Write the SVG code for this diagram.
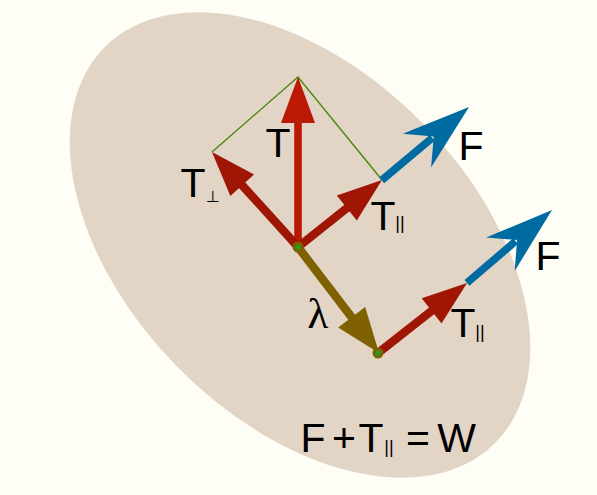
<svg xmlns="http://www.w3.org/2000/svg" width="597" height="495" viewBox="0 0 597 495">
  <style>
    .lbl { font-family: "Liberation Sans", Arial, sans-serif; font-size: 41px; fill: #000; }
    .sub { font-family: "Liberation Sans", Arial, sans-serif; font-size: 18px; fill: #000; }
    .perp { font-family: "DejaVu Sans", sans-serif; font-size: 16px; fill: #000; }
    .lam { font-family: "Liberation Serif", "Times New Roman", serif; font-size: 43px; fill: #000; }
    .red1 { fill: #ba1a03; }
    .red2 { fill: #9f1605; }
    .blue { fill: #006ba1; }
    .olive { fill: #7f6102; }
    .guide { fill: none; stroke: #4d8a12; stroke-width: 1.5; }
  </style>
  <rect x="0" y="0" width="597" height="495" fill="#fefef6"/>
  <ellipse id="body" cx="300" cy="245" rx="278" ry="173" transform="rotate(45.7 300 245)" fill="#e3d5c6"/>

  <g id="connectors">
    <path class="guide" d="M212,152 L298,77 L382,180"/>
    <g id="F1" class="blue" transform="translate(469,107) rotate(-40)">
      <rect x="-114" y="-3.8" width="66" height="7.6"/>
      <path d="M0,0 L-68,-22 L-46,0 L-68,22 Z"/>
    </g>
    <g id="F2" class="blue" transform="translate(552,210) rotate(-40.6)">
      <rect x="-112" y="-3.8" width="64" height="7.6"/>
      <path d="M0,0 L-68,-22 L-46,0 L-68,22 Z"/>
    </g>
    <g id="T" class="red1" transform="translate(298,77) rotate(-90)">
      <rect x="-170" y="-3.8" width="126" height="7.6"/>
      <path d="M0,0 L-46,-17 L-46,17 Z"/>
    </g>
    <g id="Tperp" class="red2" transform="translate(212,152) rotate(-132.2)">
      <rect x="-128" y="-4.2" width="86" height="8.4"/>
      <path d="M0,0 L-45,-16 L-45,16 Z"/>
    </g>
    <g id="Tpar1" class="red2" transform="translate(382,180) rotate(-38.6)">
      <rect x="-107" y="-4.2" width="65" height="8.4"/>
      <path d="M0,0 L-45,-16 L-45,16 Z"/>
    </g>
    <g id="lambda" class="olive" transform="translate(379,353) rotate(52.6)">
      <rect x="-133" y="-4.2" width="91" height="8.4"/>
      <path d="M0,0 L-45,-17 L-45,17 Z"/>
    </g>
    <g id="Tpar2" class="red2" transform="translate(467,283) rotate(-38.2)">
      <rect x="-113" y="-4.2" width="71" height="8.4"/>
      <path d="M0,0 L-45,-16 L-45,16 Z"/>
    </g>
  </g>

  <g id="node1">
    <circle cx="298" cy="247" r="5.5" fill="#7f6102"/>
    <circle cx="298" cy="247" r="2.6" fill="#1f9e1f"/>
  </g>
  <g id="node2">
    <circle cx="378" cy="353" r="5.5" fill="#7f6102"/>
    <circle cx="378" cy="353" r="2.6" fill="#1f9e1f"/>
  </g>

  <g id="labels">
    <text class="lbl" x="278" y="157" text-anchor="middle">T</text>
    <text class="lbl" x="193" y="197" text-anchor="middle">T</text>
    <text class="perp" x="213" y="202" text-anchor="middle">⊥</text>
    <text class="lbl" x="383" y="230" text-anchor="middle">T</text>
    <text class="sub" x="400" y="229" text-anchor="middle">||</text>
    <text class="lbl" x="471" y="160" text-anchor="middle">F</text>
    <text class="lbl" x="548" y="270" text-anchor="middle">F</text>
    <text class="lbl" x="463" y="337" text-anchor="middle">T</text>
    <text class="sub" x="480" y="338" text-anchor="middle">||</text>
    <text class="lam" x="318" y="328" text-anchor="middle">λ</text>
    <text class="lbl" x="313" y="452" text-anchor="middle">F</text>
    <text class="lbl" x="344" y="452" text-anchor="middle">+</text>
    <text class="lbl" x="371" y="452" text-anchor="middle">T</text>
    <text class="sub" x="389" y="453" text-anchor="middle">||</text>
    <text class="lbl" x="418" y="452" text-anchor="middle">=</text>
    <text class="lbl" x="456.5" y="452" text-anchor="middle">W</text>
  </g>
</svg>
